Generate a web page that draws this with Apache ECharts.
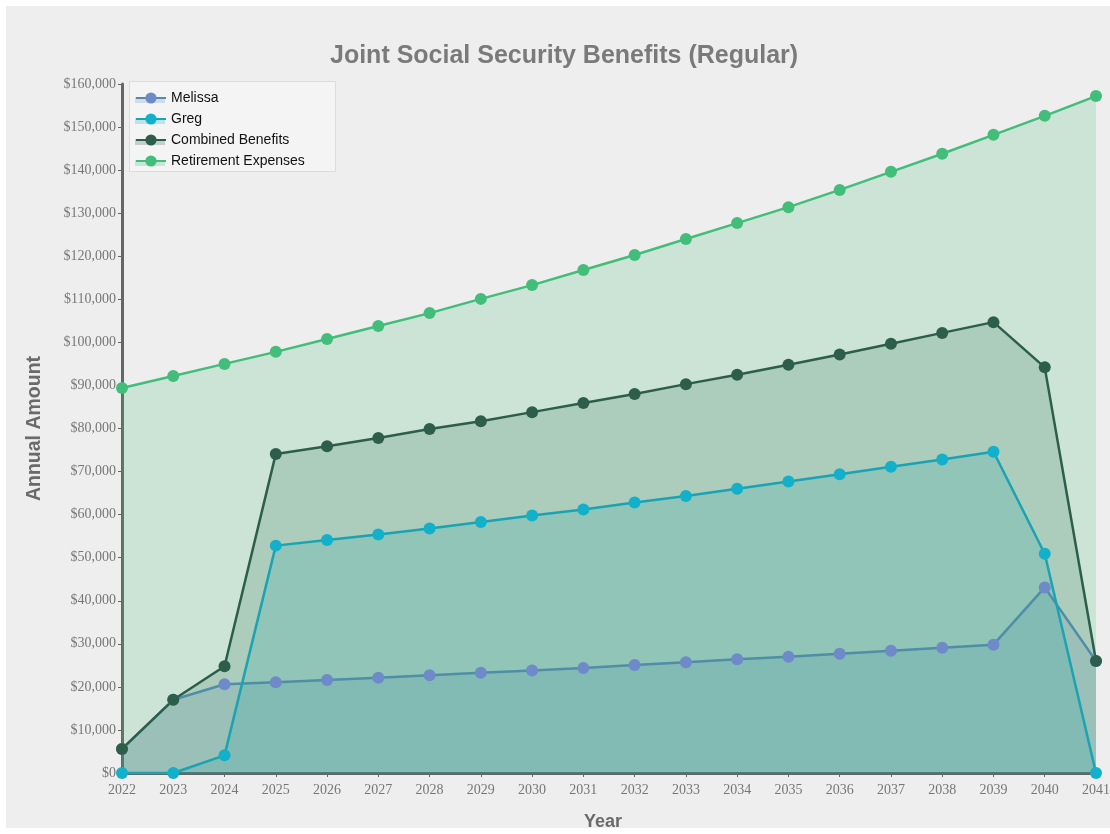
<!DOCTYPE html>
<html><head><meta charset="utf-8">
<script src="https://cdn.jsdelivr.net/npm/echarts@6/dist/echarts.min.js"></script>
<style>
html,body{margin:0;padding:0;background:#ffffff;}
#c{position:absolute;left:6px;top:6px;width:1104px;height:822px;background:#eeeeee;}
</style></head>
<body><div id="c"></div>
<script>
const years = ['2022','2023','2024','2025','2026','2027','2028','2029','2030','2031','2032','2033','2034','2035','2036','2037','2038','2039','2040','2041'];
const melissa = [5600,17000,20600,21100,21600,22100,22700,23300,23800,24400,25100,25700,26400,27000,27700,28400,29100,29800,43100,26000];
const greg = [0,0,4100,52800,54100,55400,56800,58300,59800,61200,62800,64300,66000,67700,69400,71100,72800,74600,50900,0];
const combined = [5600,17000,24800,74100,75900,77800,79900,81700,83800,85900,88000,90300,92500,94800,97200,99700,102200,104700,94200,26000];
const expenses = [89400,92200,95000,97800,100800,103800,106800,110100,113300,116800,120300,124000,127700,131400,135400,139600,143800,148200,152600,157200];

const seriesNames = ['Melissa','Greg','Combined Benefits','Retirement Expenses'];
const seriesColors = ['#6f8ac9','#12b0cb','#2d5e4b','#42bd7a'];
const lineColors = ['#4f8ea6','#1aa3b3','#2d5e4b','#42bd7a'];
const seriesData = [melissa, greg, combined, expenses];

const chart = echarts.init(document.getElementById('c'), null, {renderer:'canvas'});
function s(i){
  return {name:seriesNames[i], type:'line', data:seriesData[i], symbol:'circle', symbolSize:12,
    itemStyle:{color:seriesColors[i]},
    lineStyle:{color:lineColors[i], width:2.5},
    areaStyle:{color:seriesColors[i], opacity:0.2, origin:'start'},
    emphasis:{disabled:true}};
}
const graphics = [{type:'rect', left:123, top:75, z:-1, shape:{width:206, height:90},
  style:{fill:'#f4f4f4', stroke:'#dcdcdc', lineWidth:1}, silent:true}];
seriesColors.forEach((c,i)=>{
  graphics.push({type:'rect', left:129, top:91+21*i, z:-1, shape:{width:30, height:6},
    style:{fill:c, opacity:0.25}, silent:true});
});
chart.setOption({
  animation:false,
  backgroundColor:'#eeeeee',
  graphic:graphics,
  title:{text:'Joint Social Security Benefits (Regular)', left:319, top:33,
    textStyle:{fontFamily:'Liberation Sans', fontSize:25, fontWeight:'bold', color:'#7a7a7a'}},
  legend:{orient:'vertical', left:123, top:77, padding:[8,8,6,6], itemGap:7, itemWidth:30, itemHeight:14,
    textStyle:{fontFamily:'Liberation Sans', fontSize:14, color:'#111'},
    data:seriesNames},
  grid:{left:116, right:14, top:78, bottom:55, containLabel:false, outerBoundsMode:'none'},
  xAxis:{type:'category', data:years, boundaryGap:false,
    name:'Year', nameLocation:'middle', nameGap:40,
    nameTextStyle:{fontFamily:'Liberation Sans', fontSize:18, fontWeight:'bold', color:'#6a6a6a', padding:[0,12,0,0]},
    axisLine:{lineStyle:{color:'#666', width:3}},
    axisTick:{show:true, length:4, alignWithLabel:true, lineStyle:{color:'#666'}},
    axisLabel:{fontFamily:'Liberation Serif', fontSize:14, color:'#777', margin:10}},
  yAxis:{type:'value', min:0, max:160000, interval:10000,
    name:'Annual Amount', nameLocation:'middle', nameGap:77, nameRotate:90,
    nameTextStyle:{fontFamily:'Liberation Sans', fontSize:19.5, fontWeight:'bold', color:'#6a6a6a'},
    axisLine:{show:true, lineStyle:{color:'#666', width:3}},
    axisTick:{show:true, length:4, lineStyle:{color:'#666'}},
    splitLine:{show:false},
    axisLabel:{fontFamily:'Liberation Serif', fontSize:14, color:'#777', margin:6,
      formatter:v=>'$'+v.toLocaleString('en-US')}},
  series:[s(0), s(1), s(2), s(3)]
});
</script></body></html>
